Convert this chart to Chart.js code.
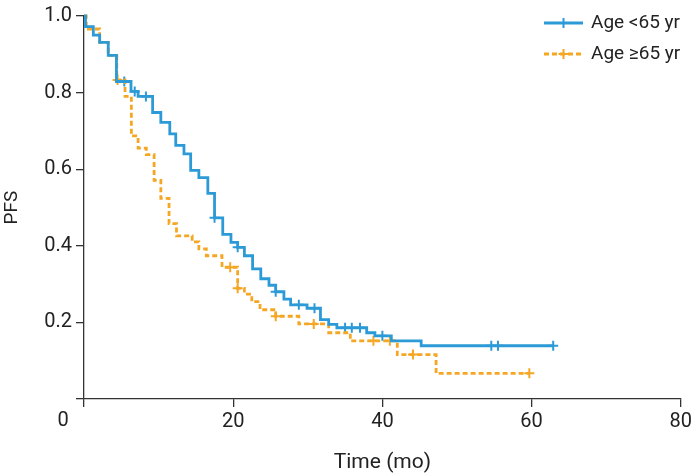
<!DOCTYPE html>
<html>
<head>
<meta charset="utf-8">
<script src="https://cdn.jsdelivr.net/npm/chart.js@4.4.1/dist/chart.umd.min.js"></script>
<style>
  html, body { margin: 0; padding: 0; background: #fff; }
</style>
</head>
<body>
<canvas id="pfsChart" width="695" height="475"></canvas>
<script>
// Kaplan-Meier steps: time (mo) of each drop, PFS after the drop
const youngTimes = [0, 0.2, 1.25, 2.1, 3.25, 4.35, 6.3, 7.25, 9.2, 10.3, 11.5, 12.3, 13.4, 14.3, 15.4, 16.6, 17.5, 18.6, 19.7, 20.6, 21.5, 22.6, 23.7, 24.8, 25.7, 26.8, 27.7, 29.9, 31.7, 32.8, 33.9, 37.9, 39.0, 41.2, 45.2];
const youngPfs = [1.0, 0.972, 0.950, 0.931, 0.897, 0.829, 0.803, 0.790, 0.748, 0.722, 0.692, 0.662, 0.640, 0.597, 0.578, 0.537, 0.473, 0.430, 0.409, 0.396, 0.374, 0.340, 0.314, 0.297, 0.280, 0.261, 0.246, 0.237, 0.207, 0.195, 0.186, 0.173, 0.165, 0.152, 0.139];
const youngEnd = 62.9;
const youngCensored = [5.4, 6.8, 8.3, 17.5, 20.6, 25.7, 28.8, 30.9, 35.0, 35.9, 37.0, 40.0, 54.6, 55.5, 62.9];

const oldTimes = [0, 0.3, 2.1, 3.25, 4.4, 5.5, 6.35, 7.25, 8.35, 9.4, 10.3, 11.4, 12.4, 14.5, 15.4, 16.4, 18.5, 20.6, 21.5, 22.5, 23.6, 25.7, 28.8, 32.8, 35.7, 42.0, 47.2];
const oldPfs = [1.0, 0.966, 0.931, 0.897, 0.833, 0.790, 0.687, 0.655, 0.638, 0.571, 0.524, 0.458, 0.426, 0.410, 0.392, 0.374, 0.344, 0.289, 0.274, 0.254, 0.233, 0.216, 0.196, 0.173, 0.152, 0.116, 0.067];
const oldEnd = 59.7;
const oldCensored = [4.5, 19.6, 20.6, 25.7, 30.8, 38.8, 41.0, 44.1, 59.7];

const seriesLabels = ['Age <65 yr', 'Age \u226565 yr'];
const xTicks = [0, 20, 40, 60, 80];
const yTicks = [0, 0.2, 0.4, 0.6, 0.8, 1.0];

const BLUE = '#2b9ad6';
const ORANGE = '#f5a623';
const FONT = 'Roboto, "Noto Sans", sans-serif';

function stepPoints(times, pfs, end) {
    const pts = times.map((t, i) => ({x: t, y: pfs[i]}));
    pts.push({x: end, y: pfs[pfs.length - 1]});
    return pts;
}

// censor marks sit on the curve at that time
function censorPoints(censored, times, pfs) {
    return censored.map(t => {
        let lvl = pfs[0];
        for (let i = 0; i < times.length; i++) if (times[i] <= t) lvl = pfs[i];
        return {x: t, y: lvl};
    });
}

const legendPlugin = {
    id: 'kmLegend',
    afterDraw(chart) {
        const ctx = chart.ctx;
        const items = [
            {label: seriesLabels[0], color: BLUE, dash: []},
            {label: seriesLabels[1], color: ORANGE, dash: [5, 3]}
        ];
        ctx.save();
        items.forEach((it, i) => {
            const y = 23 + i * 31;
            ctx.strokeStyle = it.color;
            ctx.lineWidth = 2.8;
            ctx.setLineDash(it.dash);
            ctx.beginPath();
            ctx.moveTo(544, y);
            ctx.lineTo(583, y);
            ctx.stroke();
            ctx.setLineDash([]);
            ctx.lineWidth = 2;
            ctx.beginPath();
            ctx.moveTo(563.5, y - 5); ctx.lineTo(563.5, y + 5);
            ctx.moveTo(558.5, y); ctx.lineTo(568.5, y);
            ctx.stroke();
            ctx.fillStyle = '#222';
            ctx.font = '19px ' + FONT;
            ctx.textBaseline = 'middle';
            ctx.textAlign = 'left';
            ctx.fillText(it.label, 591, y);
        });
        // shared origin label
        const xs = chart.scales.x;
        ctx.font = '20px ' + FONT;
        ctx.textAlign = 'center';
        ctx.textBaseline = 'middle';
        ctx.fillStyle = '#222';
        ctx.fillText('0', xs.getPixelForValue(0) - 21, chart.chartArea.bottom + 22);
        ctx.restore();
    }
};

new Chart(document.getElementById('pfsChart'), {
    type: 'line',
    data: {
        datasets: [
            {
                label: seriesLabels[0],
                data: stepPoints(youngTimes, youngPfs, youngEnd),
                stepped: 'before',
                borderColor: BLUE,
                borderWidth: 2.8,
                pointRadius: 0,
                fill: false,
                clip: 6
            },
            {
                label: seriesLabels[1],
                data: stepPoints(oldTimes, oldPfs, oldEnd),
                stepped: 'before',
                borderColor: ORANGE,
                borderWidth: 2.8,
                borderDash: [5, 3],
                pointRadius: 0,
                fill: false,
                clip: 6
            },
            {
                label: 'censored <65',
                data: censorPoints(youngCensored, youngTimes, youngPfs),
                showLine: false,
                pointStyle: 'cross',
                pointRadius: 5,
                borderWidth: 2,
                borderColor: BLUE,
                clip: 6
            },
            {
                label: 'censored >=65',
                data: censorPoints(oldCensored, oldTimes, oldPfs),
                showLine: false,
                pointStyle: 'cross',
                pointRadius: 5,
                borderWidth: 2,
                borderColor: ORANGE,
                clip: 6
            }
        ]
    },
    options: {
        responsive: false,
        animation: false,
        layout: {padding: {left: 0, right: 12, top: 10, bottom: 0}},
        plugins: {legend: {display: false}, tooltip: {enabled: false}},
        scales: {
            x: {
                type: 'linear',
                min: xTicks[0],
                max: xTicks[xTicks.length - 1],
                afterBuildTicks: s => { s.ticks = xTicks.map(v => ({value: v})); },
                afterFit: s => { s.height = 76; },
                ticks: {
                    callback: v => (v === 0 ? '' : v),
                    color: '#222',
                    font: {family: FONT, size: 20},
                    padding: 3,
                    maxRotation: 0
                },
                grid: {drawOnChartArea: false, drawTicks: true, tickLength: 8, color: '#333', lineWidth: 1.3},
                border: {display: true, color: '#333', width: 1.3},
                title: {display: true, text: 'Time (mo)', color: '#222', font: {family: FONT, size: 21}, padding: {top: 0, bottom: 0}}
            },
            y: {
                type: 'linear',
                min: yTicks[0],
                max: yTicks[yTicks.length - 1],
                afterBuildTicks: s => { s.ticks = yTicks.map(v => ({value: v})); },
                afterFit: s => { s.width = 84; },
                ticks: {
                    callback: v => (v === 0 ? '' : v.toFixed(1)),
                    color: '#222',
                    font: {family: FONT, size: 20},
                    padding: 4
                },
                grid: {drawOnChartArea: false, drawTicks: true, tickLength: 8, color: '#333', lineWidth: 1.3},
                border: {display: true, color: '#333', width: 1.3},
                title: {display: true, text: 'PFS', color: '#222', font: {family: FONT, size: 19}, padding: {top: 1, bottom: 0}}
            }
        }
    },
    plugins: [legendPlugin]
});
</script>
</body>
</html>
